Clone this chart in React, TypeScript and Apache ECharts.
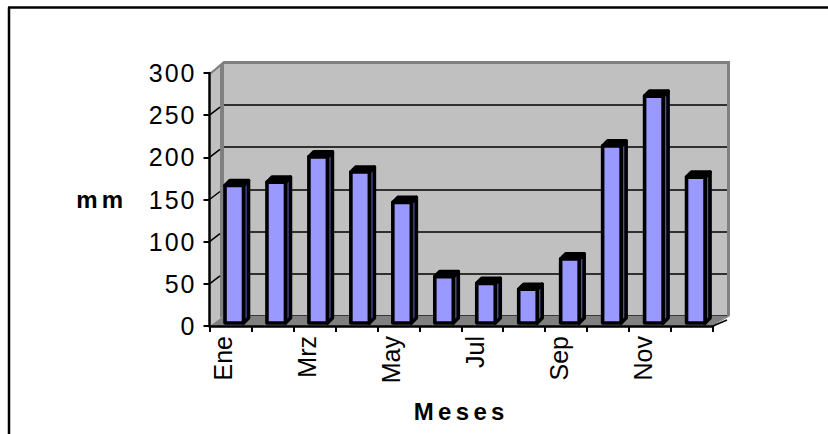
import React, { useEffect, useRef } from "react";
import * as echarts from "echarts";

const months = ["Ene", "Feb", "Mrz", "Abr", "May", "Jun", "Jul", "Ago", "Sep", "Oct", "Nov", "Dic"];
const rainfall = [163, 167, 197, 179, 143, 55, 47, 40, 76, 210, 269, 173];
const yTicks = [0, 50, 100, 150, 200, 250, 300];

const FONT = "'Liberation Sans', Arial, sans-serif";
const DX = 14;
const DY = -10;

export default function App() {
  const ref = useRef<HTMLDivElement>(null);
  useEffect(() => {
    const chart = echarts.init(ref.current!, null, { renderer: "svg" });
    const ink = "#000";
    const wallGrey = "#808080";
    const hiddenY = {
      type: "value",
      min: 0,
      max: 300,
      interval: 50,
      axisLine: { show: false },
      axisTick: { show: false },
      axisLabel: { show: false },
    };
    const option: any = {
      animation: false,
      backgroundColor: "#fff",
      grid: [
        { left: 209.5, right: 115, top: 73, bottom: 108 },
        { left: 224, right: 101, top: 63, bottom: 118.5, show: true, backgroundColor: "#c0c0c0", borderWidth: 0, z: 0 },
        { left: 202.5, right: 122, top: 73, bottom: 108 },
      ],
      xAxis: [
        {
          type: "category",
          data: months,
          gridIndex: 0,
          boundaryGap: true,
          z: 5,
          axisLine: { show: true, lineStyle: { color: ink, width: 2.5 } },
          axisTick: { show: true, interval: 0, alignWithLabel: false, length: 6, inside: false, lineStyle: { color: ink, width: 2 } },
          axisLabel: { show: false },
          name: "Meses",
          nameLocation: "middle",
          nameGap: 73,
          nameTextStyle: { color: ink, fontSize: 24, fontWeight: "bold", fontFamily: FONT },
        },
        { type: "category", data: months, gridIndex: 1, show: false },
        {
          type: "category",
          data: months,
          gridIndex: 2,
          axisLine: { show: false },
          axisTick: { show: false },
          axisLabel: { interval: 1, rotate: 90, color: ink, fontSize: 25, fontFamily: FONT, margin: 10 },
        },
      ],
      yAxis: [
        {
          type: "value",
          gridIndex: 0,
          min: 0,
          max: 300,
          interval: 50,
          z: 5,
          axisLine: { show: true, lineStyle: { color: ink, width: 2.5 } },
          axisTick: { show: true, length: 6, lineStyle: { color: ink, width: 2 } },
          axisLabel: { color: ink, fontSize: 25, fontFamily: FONT, margin: 13, padding: [5, 0, 0, 0] },
          splitLine: { show: false },
          name: "mm",
          nameLocation: "middle",
          nameGap: 82,
          nameRotate: 0,
          nameTextStyle: { color: ink, fontSize: 24, fontWeight: "bold", fontFamily: FONT },
        },
        { ...hiddenY, gridIndex: 1, splitLine: { show: true, lineStyle: { color: ink, width: 1.5 } } },
        { ...hiddenY, gridIndex: 2, splitLine: { show: false } },
      ],
      series: [
        {
          // left side wall, floor and the wall's grey frame, anchored to the axes
          type: "custom",
          xAxisIndex: 0,
          yAxisIndex: 0,
          z: 1,
          silent: true,
          data: [[0, 0]],
          renderItem: (_p: any, api: any) => {
            const bottom = api.coord([0, 0]);
            const top = api.coord([0, 300]);
            const left = bottom[0] - api.size([1, 0])[0] / 2;
            const right = left + api.size([1, 0])[0] * months.length;
            const y0 = bottom[1];
            const y1 = top[1];
            const poly = (points: number[][], fill: string) => ({
              type: "polygon",
              shape: { points },
              style: { fill, stroke: null },
            });
            return {
              type: "group",
              children: [
                poly([[left, y0], [left + DX, y0 + DY], [left + DX, y1 + DY], [left, y1]], "#c0c0c0"),
                poly([[left, y0], [left + DX, y0 + DY], [right + DX, y0 + DY], [right, y0]], wallGrey),
                poly([[left + DX - 3.5, y0 + DY + 2], [left + DX + 0.5, y0 + DY], [left + DX + 0.5, y1 + DY], [left + DX - 3.5, y1 + DY + 2]], wallGrey),
                poly([[left, y1], [left + DX, y1 + DY - 2], [right + DX + 3, y1 + DY - 2], [right + DX + 3, y1 + DY + 1], [left + DX, y1 + DY + 1], [left + 2, y1 + 1]], wallGrey),
                poly([[right + DX, y1 + DY], [right + DX + 3, y1 + DY], [right + DX + 3, y0 + DY], [right, y0], [right + DX, y0 + DY]], wallGrey),
                {
                  type: "line",
                  shape: { x1: right, y1: y0, x2: right + DX, y2: y0 + DY + 4 },
                  style: { stroke: ink, lineWidth: 1.5 },
                },
              ],
            };
          },
        },
        {
          // slanted grid lines on the side wall
          type: "custom",
          xAxisIndex: 0,
          yAxisIndex: 0,
          z: 2,
          silent: true,
          data: yTicks.map((v) => [0, v]),
          renderItem: (_p: any, api: any) => {
            const c = api.coord([0, api.value(1)]);
            const left = c[0] - api.size([1, 0])[0] / 2;
            return {
              type: "line",
              shape: { x1: left, y1: c[1], x2: left + DX - 3.5, y2: c[1] + DY + 2 },
              style: { stroke: api.value(1) === 300 || api.value(1) === 0 ? "none" : ink, lineWidth: 1.5 },
            };
          },
        },
        {
          type: "custom",
          xAxisIndex: 0,
          yAxisIndex: 0,
          z: 3,
          silent: true,
          data: rainfall.map((v, i) => [i, v]),
          renderItem: (_p: any, api: any) => {
            const i = api.value(0);
            const band = api.size([1, 0])[0];
            const mid = api.coord([i, 0]);
            const topPt = api.coord([i, api.value(1)]);
            const x0 = mid[0] - band / 2 + 15.5;
            const w = 18.5;
            const lift = -3;
            const yB = mid[1] + lift;
            const yT = topPt[1] + lift;
            const dx = 5;
            const dy = -5;
            const face = (points: number[][], fill: string) => ({
              type: "polygon",
              shape: { points },
              style: { fill, stroke: "#000", lineWidth: 3.6, lineJoin: "round" },
            });
            return {
              type: "group",
              children: [
                face([[x0 + w, yT], [x0 + w + dx, yT + dy], [x0 + w + dx, yB + dy], [x0 + w, yB]], "#4f4fa0"),
                face([[x0, yT], [x0 + dx, yT + dy], [x0 + w + dx, yT + dy], [x0 + w, yT]], "#000"),
                face([[x0, yT], [x0 + w, yT], [x0 + w, yB], [x0, yB]], "#9999ff"),
              ],
            };
          },
        },
      ],
      graphic: [
        { type: "line", z: 10, shape: { x1: 9, y1: 434, x2: 9, y2: 7.5 }, style: { stroke: "#000", lineWidth: 2.5 } },
        { type: "line", z: 10, shape: { x1: 8, y1: 7.5, x2: 828, y2: 7.5 }, style: { stroke: "#000", lineWidth: 2.5 } },
      ],
    };
    chart.setOption(option);
    return () => chart.dispose();
  }, []);
  return (
    <>
      <style>{`body{margin:0} #plot text{letter-spacing:2px} #plot text[transform^="matrix(0"]{letter-spacing:0} #plot text[style*="bold"]{letter-spacing:4.3px}`}</style>
      <div id="plot" ref={ref} style={{ width: 828, height: 434 }} />
    </>
  );
}
